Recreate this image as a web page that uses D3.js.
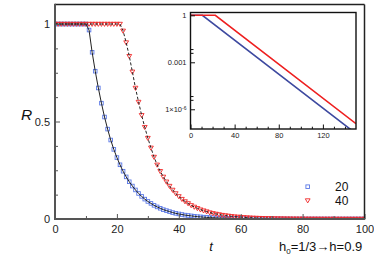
<!DOCTYPE html>
<html><head><meta charset="utf-8">
<script src="https://cdn.jsdelivr.net/npm/d3@7"></script>
<style>body{margin:0;background:#fff}svg{display:block}text{font-family:"Liberation Sans",Arial,sans-serif}</style>
</head><body>
<script>
// ---- data ----
const tMain = d3.range(0, 101);
const R20 = [1,1,1,1,1,1,1,1,1,1,1,
  0.969,0.855,0.758,0.672,0.594,0.523,0.461,0.405,0.357,0.315,
  0.278,0.245,0.216,0.191,0.169,0.149,0.131,0.116,0.102,0.090,
  0.080,0.070,0.062,0.055,0.048,0.043,0.038,0.033,0.029,0.026,
  0.023,0.020,0.018,0.016,0.014,0.012,0.011,0.0095,0.0084,0.0074,
  0.0065,0.0057,0.0051,0.0045,0.0040,0.0035,0.0031,0.0027,0.0024,0.0021,
  0.0019,0.0017,0.0015,0.0013,0.0011,0.0010,0.0009,0.0008,0.0007,0.0006,
  0.0005,0.0005,0.0004,0.0004,0.0003,0.0003,0.0002,0.0002,0.0002,0.0002,
  0.0001,0.0001,0.0001,0.0001,0.0001,0.0001,0.0001,0.0001,0.0001,0.0001,
  0.0001,0.0001,0.0001,0.0001,0.0001,0.0001,0.0001,0.0001,0.0001,0.0001];
const R40 = [1,1,1,1,1,1,1,1,1,1,1,1,1,1,1,1,1,1,1,1,1,1,
  0.965,0.905,0.835,0.755,0.672,0.600,0.532,0.471,0.415,0.365,0.318,
  0.278,0.245,0.216,0.191,0.169,0.149,0.131,0.116,0.102,0.090,
  0.080,0.070,0.062,0.055,0.048,0.043,0.038,0.033,0.029,0.026,
  0.023,0.020,0.018,0.016,0.014,0.012,0.011,0.0095,0.0084,0.0074,
  0.0065,0.0057,0.0051,0.0045,0.0040,0.0035,0.0031,0.0027,0.0024,0.0021,
  0.0019,0.0017,0.0015,0.0013,0.0011,0.0010,0.0009,0.0008,0.0007,0.0006,
  0.0005,0.0005,0.0004,0.0004,0.0003,0.0003,0.0002,0.0002,0.0002,0.0002,
  0.0001,0.0001,0.0001,0.0001,0.0001,0.0001,0.0001,0.0001];
const tInset = [0, 10.75, 150];
const RInset20 = [1, 1, 2.8e-8];
const tInset40 = [0, 22.5, 150];
const RInset40 = [1, 1, 1.2e-7];
const seriesNames = ["20", "40"];
const xMajor = [0,20,40,60,80,100];
const xMinor = [10,30,50,70,90];
const yMajor = [0,0.5,1];
const yMinor = [0.125,0.25,0.375,0.625,0.75,0.875];
const xiMajor = [0,40,80,120];
const xiMinor = [10,20,30,50,60,70,90,100,110,130,140];
const yiMajor = [1,0.001,1e-6];
const yiMinor = [0.004,0.007,4e-6,7e-6];

// ---- layout ----
const W = 374, H = 264;
const svg = d3.select("body").append("svg").attr("width", W).attr("height", H);
const L = 55, R = 364.5, T = 4.5, B = 219;
const x = d3.scaleLinear([0,100],[L,R]);
const y = d3.scaleLinear([0,1],[B,24]);
const blue = "#5a78e6", red = "#f02828";

svg.append("clipPath").attr("id","cm").append("rect").attr("x",L).attr("y",T).attr("width",R-L).attr("height",B-T);
const gm = svg.append("g").attr("clip-path","url(#cm)");

const sq = 3.6;
gm.append("g").selectAll("rect").data(tMain).join("rect")
  .attr("x", d=>x(d)-sq/2).attr("y", (d,i)=>y(R20[i])-sq/2)
  .attr("width",sq).attr("height",sq).attr("fill","none").attr("stroke",blue).attr("stroke-width",0.9);
const tri = "M-2.4,-1.7L2.4,-1.7L0,2.4Z";
gm.append("g").selectAll("path").data(tMain).join("path")
  .attr("d", tri).attr("transform",(d,i)=>`translate(${x(d)},${y(R40[i])})`)
  .attr("fill","none").attr("stroke",red).attr("stroke-width",0.9);

const line = d3.line().x(d=>x(d[0])).y(d=>y(d[1]));
gm.append("path").attr("d", line(tMain.map((t,i)=>[t,R20[i]])))
  .attr("fill","none").attr("stroke","#222").attr("stroke-width",1);
gm.append("path").attr("d", line(tMain.map((t,i)=>[t,R40[i]])))
  .attr("fill","none").attr("stroke","#222").attr("stroke-width",1).attr("stroke-dasharray","3,2");

// main axes
const fs = 11;
svg.append("g").attr("transform",`translate(0,${B})`)
  .call(d3.axisBottom(x).tickValues(xMajor).tickSize(-5).tickPadding(6).tickFormat(d3.format("d")));
svg.append("g").attr("transform",`translate(0,${B})`)
  .call(d3.axisBottom(x).tickValues(xMinor).tickSize(-3).tickFormat(""));
svg.append("g").attr("transform",`translate(${L},0)`)
  .call(d3.axisLeft(y).tickValues(yMajor).tickSize(-5).tickPadding(5).tickFormat(d=>d===0.5?"0.5":d3.format("d")(d)));
svg.append("g").attr("transform",`translate(${L},0)`)
  .call(d3.axisLeft(y).tickValues(yMinor).tickSize(-3).tickFormat(""));
svg.selectAll(".domain").remove();
svg.selectAll(".tick line").attr("stroke","#555").attr("stroke-width",1);
svg.selectAll(".tick text").attr("font-size",fs).attr("fill","#222").attr("font-family","Liberation Sans, Arial, sans-serif");

svg.append("line").attr("x1",L).attr("x2",R).attr("y1",T).attr("y2",T).attr("stroke","#222").attr("stroke-width",1.5);
svg.append("line").attr("x1",R).attr("x2",R).attr("y1",T).attr("y2",B).attr("stroke","#222").attr("stroke-width",1.5);
svg.append("line").attr("x1",L).attr("x2",L).attr("y1",T-0.75).attr("y2",B+1).attr("stroke","#555").attr("stroke-width",2);
svg.append("line").attr("x1",L-1).attr("x2",R+0.75).attr("y1",B).attr("y2",B).attr("stroke","#555").attr("stroke-width",2);

// legend
svg.append("rect").attr("x",307.7-sq/2).attr("y",186.7-sq/2).attr("width",sq).attr("height",sq)
  .attr("fill","none").attr("stroke",blue).attr("stroke-width",0.9);
svg.append("path").attr("d",tri).attr("transform","translate(307.7,200.5)")
  .attr("fill","none").attr("stroke",red).attr("stroke-width",0.9);
svg.append("text").attr("x",335).attr("y",191).attr("font-size",12).attr("fill","#111").text(seriesNames[0]);
svg.append("text").attr("x",335).attr("y",205).attr("font-size",12).attr("fill","#111").text(seriesNames[1]);

// labels
svg.append("text").attr("x",21).attr("y",119.5).attr("font-size",15.5).attr("font-style","italic").attr("fill","#111").text("R");
svg.append("text").attr("x",211).attr("y",251).attr("text-anchor","middle").attr("font-size",13).attr("font-style","italic").attr("fill","#111").text("t");
const hl = svg.append("text").attr("x",279).attr("y",250.5).attr("font-size",13).attr("fill","#111");
hl.append("tspan").text("h");
hl.append("tspan").attr("font-size",8).attr("dy",3).text("0");
hl.append("tspan").attr("dy",-3).text("=1/3");
hl.append("tspan").text("\u2192");
hl.append("tspan").text("h=0.9");

// ---- inset ----
const iL = 190.5, iR = 356, iT = 12.5, iB = 129;
const xi = d3.scaleLinear([0,150],[iL,iR]);
const yi = d3.scaleLog([5.5e-8, 1.51],[iB,iT]);
svg.append("rect").attr("x",iL).attr("y",iT).attr("width",iR-iL).attr("height",iB-iT).attr("fill","#fff");
svg.append("clipPath").attr("id","ci").append("rect").attr("x",iL).attr("y",iT).attr("width",iR-iL).attr("height",iB-iT);
const gi = svg.append("g").attr("clip-path","url(#ci)");
const li = d3.line().x(d=>xi(d[0])).y(d=>yi(d[1]));
gi.append("path").attr("d", li(tInset.map((t,i)=>[t,RInset20[i]]))).attr("fill","none").attr("stroke","#3e4aa0").attr("stroke-width",1.6);
gi.append("path").attr("d", li(tInset40.map((t,i)=>[t,RInset40[i]]))).attr("fill","none").attr("stroke","#ee2020").attr("stroke-width",1.6);

const ig = svg.append("g").attr("class","inset");
ig.append("g").attr("transform",`translate(0,${iB})`)
  .call(d3.axisBottom(xi).tickValues(xiMajor).tickSize(-4.5).tickPadding(4).tickFormat(d3.format("d")));
ig.append("g").attr("transform",`translate(0,${iB})`)
  .call(d3.axisBottom(xi).tickValues(xiMinor).tickSize(-2.3).tickFormat(""));
ig.append("g").attr("transform",`translate(${iL},0)`)
  .call(d3.axisLeft(yi).tickValues(yiMajor).tickSize(-4.5).tickPadding(4)
    .tickFormat(d=> d===1?"1": d===0.001?"0.001":"1\u00d710"));
ig.append("g").attr("transform",`translate(${iL},0)`)
  .call(d3.axisLeft(yi).tickValues(yiMinor).tickSize(-3).tickFormat(""));
ig.selectAll(".domain").remove();
ig.selectAll(".tick line").attr("stroke","#111").attr("stroke-width",1);
ig.selectAll(".tick text").attr("font-size",7.5).attr("fill","#222").attr("font-family","Liberation Sans, Arial, sans-serif");
ig.selectAll(".tick text").filter(d=>d===1e-6).each(function(){
  d3.select(this).append("tspan").attr("dy","-0.45em").attr("font-size",5).text("-6");
});
ig.append("rect").attr("x",iL).attr("y",iT).attr("width",iR-iL).attr("height",iB-iT)
  .attr("fill","none").attr("stroke","#111").attr("stroke-width",1.4);
</script>
</body></html>
